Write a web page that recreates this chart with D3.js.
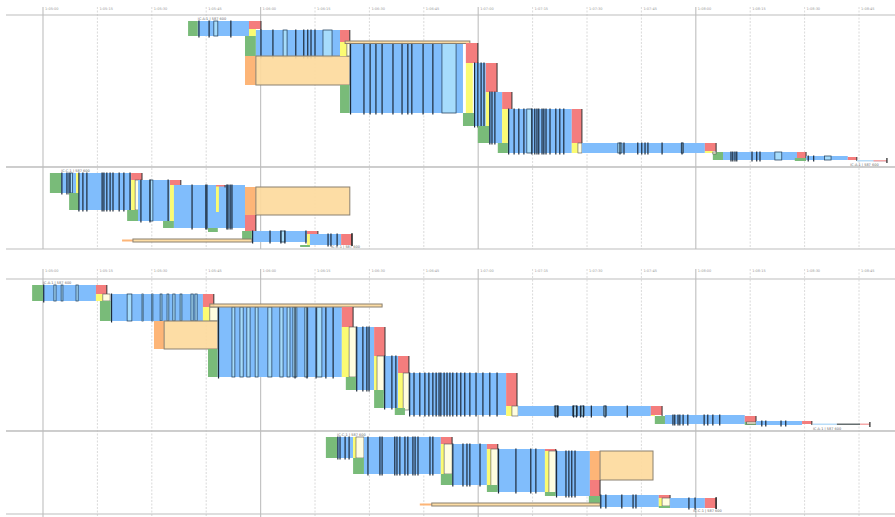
<!DOCTYPE html>
<html lang="en">
<head>
<meta charset="UTF-8" />
<title>Trace timeline</title>
<script src="https://d3js.org/d3.v7.min.js"></script>
<style>
  body { margin: 0; background: #fff; }
  svg { display: block; font-family: "DejaVu Sans", sans-serif; }
</style>
</head>
<body>
<svg width="895" height="517"></svg>
<script>
// tick labels, every 15 s
const tickTimes = d3.range(0, 226, 15);
const tickLabels = ["1:05:00","1:05:15","1:05:30","1:05:45","1:06:00","1:06:15","1:06:30","1:06:45",
  "1:07:00","1:07:15","1:07:30","1:07:45","1:08:00","1:08:15","1:08:30","1:08:45"];

// blocks: [kind, t0, t1, level0, level1, ticks, boxes]
const p1Blocks = [
  ["g",40.0,42.7,6,21],
  ["b",42.7,56.8,6,21,[43.0,45.8,51.8],[[47.1,48.2]]],
  ["r",56.8,60.1,6,14],
  ["y",56.8,58.7,14,21],
  ["g",55.7,58.7,21,41],
  ["o",55.7,58.7,41,70],
  ["b",58.7,81.9,15,42,[60.1,63.4,69.7,71.9,73.0,73.9,75.0],[[66.2,67.3],[77.2,79.7]]],
  ["lo",58.7,84.6,41,70],
  ["r",81.9,84.6,15,27],
  ["y",81.9,83.8,27,41],
  ["ly",83.8,84.6,28,41],
  ["g",81.9,84.6,70,98],
  ["b",84.6,115.8,28,98,[84.8,88.5,90.2,91.8,93.5,96.5,99.0,100.6,101.7,104.8,107.5],[[110.0,113.9]]],
  ["lo",83.3,117.7,26,28.5],
  ["r",116.6,119.9,28,48],
  ["y",116.6,118.5,48,98],
  ["g",115.8,119.1,98,111],
  ["b",118.8,122.1,48,111,[119.0,119.9,120.8,121.6]],
  ["r",122.1,125.2,48,77],
  ["y",122.1,123.0,77,128],
  ["g",119.9,123.0,111,128],
  ["b",123.0,126.6,77,128,[123.2,123.8,124.6]],
  ["r",126.6,129.3,77,94],
  ["y",126.6,128.2,94,128],
  ["g",125.4,128.2,128,138],
  ["b",128.2,145.8,94,138,[128.4,129.9,131.2,132.6,134.8,135.6,136.2,136.7,137.6,138.1,138.7,139.8,141.4,142.5,143.6],[[133.4,134.8]]],
  ["r",145.8,148.6,94,128],
  ["y",145.8,147.5,128,138],
  ["ly",147.5,148.6,128,138],
  ["b",148.6,182.5,128,138,[159.1,160.2,164.0,165.1,166.0,166.8,170.7,176.2],[[158.5,159.6],[176.0,176.6]]],
  ["r",182.5,185.6,128,136],
  ["y",182.5,184.7,136,138],
  ["g",184.7,187.5,137,145],
  ["ly",184.7,185.6,137,139],
  ["b",187.5,207.9,137,145,[189.7,190.2,190.8,191.3,195.5,196.8,197.7],[[201.8,203.7]]],
  ["r",207.9,210.4,137,143],
  ["g",207.3,210.4,143,146],
  ["b",210.4,221.9,141,145,[211.0,212.5],[[215.5,217.3]]],
  ["r",221.9,224.4,142,145],
  ["lb",224.4,232.7,145,146.5],
  ["lr",229.0,232.7,145,146.5],
  ["k",232.7,232.7,143,148]
];

const p2Blocks = [
  ["g",1.9,5.0,6,26],
  ["b",5.0,9.9,6,26,[5.2,6.6,7.2],[[7.6,8.1]]],
  ["y",9.1,9.9,6,26],
  ["g",7.2,9.9,26,43],
  ["b",9.9,24.3,6,43,[9.9,11.0,12.1,16.3,16.8,17.6,18.5,19.3,21.0,22.3,24.0]],
  ["r",24.3,27.3,6,13],
  ["y",24.3,25.4,13,43],
  ["ly",25.4,26.5,13,43],
  ["g",23.2,26.2,43,54],
  ["b",26.2,35.0,13,54,[27.0,29.5,34.5],[[29.5,30.3]]],
  ["r",35.0,38.0,13,18],
  ["y",35.0,36.1,18,54],
  ["g",33.1,36.1,54,61],
  ["b",36.1,55.7,18,61,[41.1,44.9,45.2,50.7,51.0,51.6,52.1]],
  ["y",47.7,48.5,19,45],
  ["r",47.7,50.2,18,19.5],
  ["g",45.5,48.2,61,65],
  ["o",55.7,58.7,20,48],
  ["lo",58.7,84.6,20,48],
  ["r",55.7,58.7,48,64],
  ["g",54.9,57.6,64,73],
  ["o",21.8,24.8,72.5,74.5],
  ["lo",24.8,57.6,72,75],
  ["b",57.6,72.8,64,75,[57.8,62.6,65.6,66.7,72.5],[[65.6,66.7]]],
  ["r",72.8,75.8,64,67],
  ["y",72.8,73.6,67,78],
  ["g",70.9,73.6,78,80],
  ["b",73.6,82.2,67,78,[78.6,79.4,81.1]],
  ["r",82.2,85.2,67,78],
  ["k",85.2,85.2,66,79]
];

const p3Blocks = [
  ["g",-3.0,0,6,22],
  ["b",0,14.6,6,22,[0.2],[[3.0,3.6],[5.0,5.5],[9.1,9.7]]],
  ["r",14.6,17.6,6,15],
  ["y",14.6,16.5,15,22],
  ["ly",16.5,18.5,15,22],
  ["g",15.7,18.7,22,42],
  ["b",18.7,44.1,15,42,[18.9],[[23.2,24.5],[27.3,27.6],[30.0,30.3],[32.3,32.8],[34.2,34.7],[35.8,36.4],[37.8,38.3],[40.8,41.4],[41.9,42.5]]],
  ["r",44.1,47.1,15,28],
  ["y",44.1,46.0,28,42],
  ["ly",46.0,48.2,28,42],
  ["o",30.6,33.4,42,70],
  ["lo",33.4,48.2,42,70],
  ["g",45.5,48.2,70,98],
  ["b",48.2,82.4,28,98,[48.4,69.5,72.8,75.3,78.0,80.0],[[52.1,52.9],[54.3,55.2],[56.2,57.1],[58.5,59.3],[62.0,63.1],[65.3,66.2],[67.3,68.1],[68.9,70.0],[72.2,73.0],[75.5,76.9]]],
  ["lo",46.0,93.5,25,28],
  ["r",82.4,85.5,28,48],
  ["y",82.4,84.4,48,98],
  ["ly",84.4,86.3,48,98],
  ["g",83.5,86.6,98,111],
  ["b",86.3,91.3,48,111,[86.5,88.2,89.3,89.9]],
  ["r",91.3,94.3,48,77],
  ["y",91.3,92.1,77,114],
  ["ly",92.1,94.0,77,114],
  ["g",91.3,94.0,111,129],
  ["b",94.0,97.9,77,129,[94.2,96.2,97.3]],
  ["r",97.9,100.9,77,94],
  ["y",97.9,99.3,94,131],
  ["ly",99.3,100.9,94,131],
  ["g",97.0,99.8,129,136],
  ["b",100.9,127.7,94,136,[101.1,102.3,103.9,105.3,106.4,107.5,108.4,109.2,109.7,110.6,111.4,112.2,113.0,114.1,115.2,116.3,117.7,119.4,121.3,123.2,125.2]],
  ["r",127.7,130.7,94,127],
  ["y",127.7,129.3,127,137],
  ["ly",129.3,131.0,127,137],
  ["b",131.0,167.6,127,137,[141.4,141.9,146.3,147.1,148.2,149.0,151.2,155.0,161.1],[[141.0,142.1],[146.0,147.4],[148.4,149.2],[154.6,155.4]]],
  ["r",167.6,170.7,127,136],
  ["y",167.6,168.7,136,137],
  ["g",168.7,171.5,137,145],
  ["b",171.5,193.5,136,145,[173.7,174.2,175.1,175.6,176.5,177.8,182.3,183.3,184.7,186.6]],
  ["r",193.5,196.6,137,143],
  ["g",193.5,196.6,143,146],
  ["ly",194.0,196.6,143,145],
  ["b",196.6,209.3,142,146,[198.2,199.3,203.5,204.8]],
  ["r",209.3,212.0,142,145],
  ["lb",212.3,218.9,144.5,146],
  ["dk",218.9,225.3,144.5,146],
  ["lr",225.3,228.0,144.5,146],
  ["k",228.0,228.0,143,148]
];

const p4Blocks = [
  ["g",78.0,81.1,6,27],
  ["b",81.1,85.5,6,27,[81.3,81.9,83.3,84.4]],
  ["y",85.5,86.3,6,27],
  ["ly",86.3,88.5,6,27],
  ["g",85.5,88.5,27,43],
  ["b",88.5,109.7,6,43,[89.6,92.9,93.5,97.0,97.6,98.4,99.8,100.6,102.0,102.6,103.4,106.7,107.5]],
  ["r",109.7,112.8,6,13],
  ["y",109.7,110.6,13,43],
  ["ly",110.6,112.8,13,43],
  ["g",109.7,112.8,43,54],
  ["b",112.8,122.4,13,54,[113.0,115.8,116.9,117.7,120.5]],
  ["r",122.4,125.4,13,18],
  ["y",122.4,123.5,18,59],
  ["ly",123.5,125.4,18,59],
  ["g",122.4,125.4,54,61],
  ["b",125.4,138.4,18,61,[125.6,130.4,134.5,135.9]],
  ["r",138.4,141.4,18,20],
  ["y",138.4,139.5,20,62],
  ["ly",139.5,141.4,20,62],
  ["g",138.4,141.4,61,65],
  ["b",141.4,150.8,20,65,[141.6,144.2,145.0,145.8,146.7]],
  ["o",150.8,153.6,20,49],
  ["lo",153.6,168.2,20,49],
  ["r",150.8,153.6,49,65],
  ["g",150.5,153.6,65,73],
  ["o",103.9,107.2,72.5,74.5],
  ["lo",107.2,153.6,72,75],
  ["b",153.6,169.8,64,76,[153.8,155.2,159.6,162.7,163.5]],
  ["r",169.8,172.9,64,67],
  ["y",169.8,170.7,67,75],
  ["ly",170.7,172.9,67,75],
  ["g",169.8,172.9,75,77],
  ["b",172.9,182.5,67,77,[178.1,179.8]],
  ["r",182.5,185.6,67,77],
  ["k",185.6,185.6,66,78]
];

// labels: [t, level, text]
const p1Labels = [[42.7, 4.5, "IC-A-1 | 587 600"], [222.6, 151, "IC-A-1 | 587 600"]];
const p2Labels = [[5.0, 4.5, "IC-C-1 | 587 600"], [79.5, 80.5, "IC-C-1 | 587 600"]];
const p3Labels = [[0, 4.5, "IC-A-1 | 587 600"], [212.3, 150.5, "IC-A-1 | 587 600"]];
const p4Labels = [[81.1, 4.5, "IC-C-1 | 587 600"], [179.3, 80.5, "IC-C-1 | 587 600"]];

const colors = {
  g: "#79bb79", b: "#80bdfc", r: "#f47d7d", y: "#fbfb73", ly: "#fffde0",
  o: "#fdb577", lo: "#fdda9d", lb: "#b9ddf8", lr: "#f6a8a8", dk: "#666f70"
};

const svg = d3.select("svg");
const W = +svg.attr("width");
const x = d3.scaleLinear().domain([0, 225]).range([43, 859]);

// two halves, each with a time axis and two panels
const halves = [
  { axisY: 8, gridTop: 7, gridBottom: 249, panels: [
    { top: 15, h: 152, blocks: p1Blocks, labels: p1Labels },
    { top: 167, h: 82, blocks: p2Blocks, labels: p2Labels } ] },
  { axisY: 270, gridTop: 269, gridBottom: 517, panels: [
    { top: 279, h: 152, blocks: p3Blocks, labels: p3Labels },
    { top: 431, h: 83, blocks: p4Blocks, labels: p4Labels } ] }
];

halves.forEach(half => {
  const g = svg.append("g");
  // grid lines
  g.selectAll("line.grid").data(tickTimes).join("line")
    .attr("x1", d => x(d)).attr("x2", d => x(d))
    .attr("y1", half.gridTop).attr("y2", half.gridBottom)
    .attr("stroke", d => d % 60 === 0 ? "#c4c4c4" : "#d0d0d0")
    .attr("stroke-width", d => d % 60 === 0 ? 1.2 : 0.8)
    .attr("stroke-dasharray", d => d % 60 === 0 ? null : "2,1.5");
  g.selectAll("text.tick").data(tickTimes).join("text")
    .attr("x", d => x(d) + 2).attr("y", half.axisY + 2)
    .attr("font-size", 3.5).attr("fill", "#999")
    .text((d, i) => tickLabels[i]);

  half.panels.forEach(p => {
    const y = d3.scaleLinear().domain([0, p.h]).range([p.top, p.top + p.h]);
    const pg = g.append("g");

    p.blocks.forEach(bk => {
      const [kind, t0, t1, v0, v1, ticks, boxes] = bk;
      if (kind === "k") {
        pg.append("line").attr("x1", x(t0)).attr("x2", x(t0))
          .attr("y1", y(v0)).attr("y2", y(v1))
          .attr("stroke", "#222").attr("stroke-width", 1.2);
        return;
      }
      const r = pg.append("rect")
        .attr("x", x(t0)).attr("y", y(v0))
        .attr("width", x(t1) - x(t0)).attr("height", y(v1) - y(v0))
        .attr("fill", colors[kind]);
      if (kind === "lo") r.attr("stroke", "#8a8070").attr("stroke-width", 1).attr("fill-opacity", 0.92);
      if (kind === "ly") r.attr("stroke", "#555").attr("stroke-width", 0.6);
      if (kind === "r") {
        pg.append("line").attr("x1", x(t1)).attr("x2", x(t1))
          .attr("y1", y(v0)).attr("y2", y(v1) + 1)
          .attr("stroke", "#333").attr("stroke-width", 1);
      }
      (boxes || []).forEach(([b0, b1]) => {
        pg.append("rect")
          .attr("x", x(b0)).attr("y", y(v0))
          .attr("width", x(b1) - x(b0)).attr("height", y(v1) - y(v0))
          .attr("fill", "#a6dcfc").attr("stroke", "#2d4a66").attr("stroke-width", 0.8);
      });
      (ticks || []).forEach(tk => {
        pg.append("line").attr("x1", x(tk)).attr("x2", x(tk))
          .attr("y1", y(v0) - 0.5).attr("y2", y(v1) + 1.5)
          .attr("stroke", "#1c2a3a").attr("stroke-width", 1.2);
      });
    });

    pg.selectAll("text.lbl").data(p.labels).join("text")
      .attr("x", d => x(d[0])).attr("y", d => y(d[1]))
      .attr("font-size", 3.5).attr("fill", "#666")
      .text(d => d[2]);

    // panel separators
    [p.top, p.top + p.h].forEach(ly => {
      g.append("line").attr("x1", 6).attr("x2", W)
        .attr("y1", ly).attr("y2", ly)
        .attr("stroke", "#bdbdbd").attr("stroke-width", 1);
    });
  });
});
</script>
</body>
</html>
